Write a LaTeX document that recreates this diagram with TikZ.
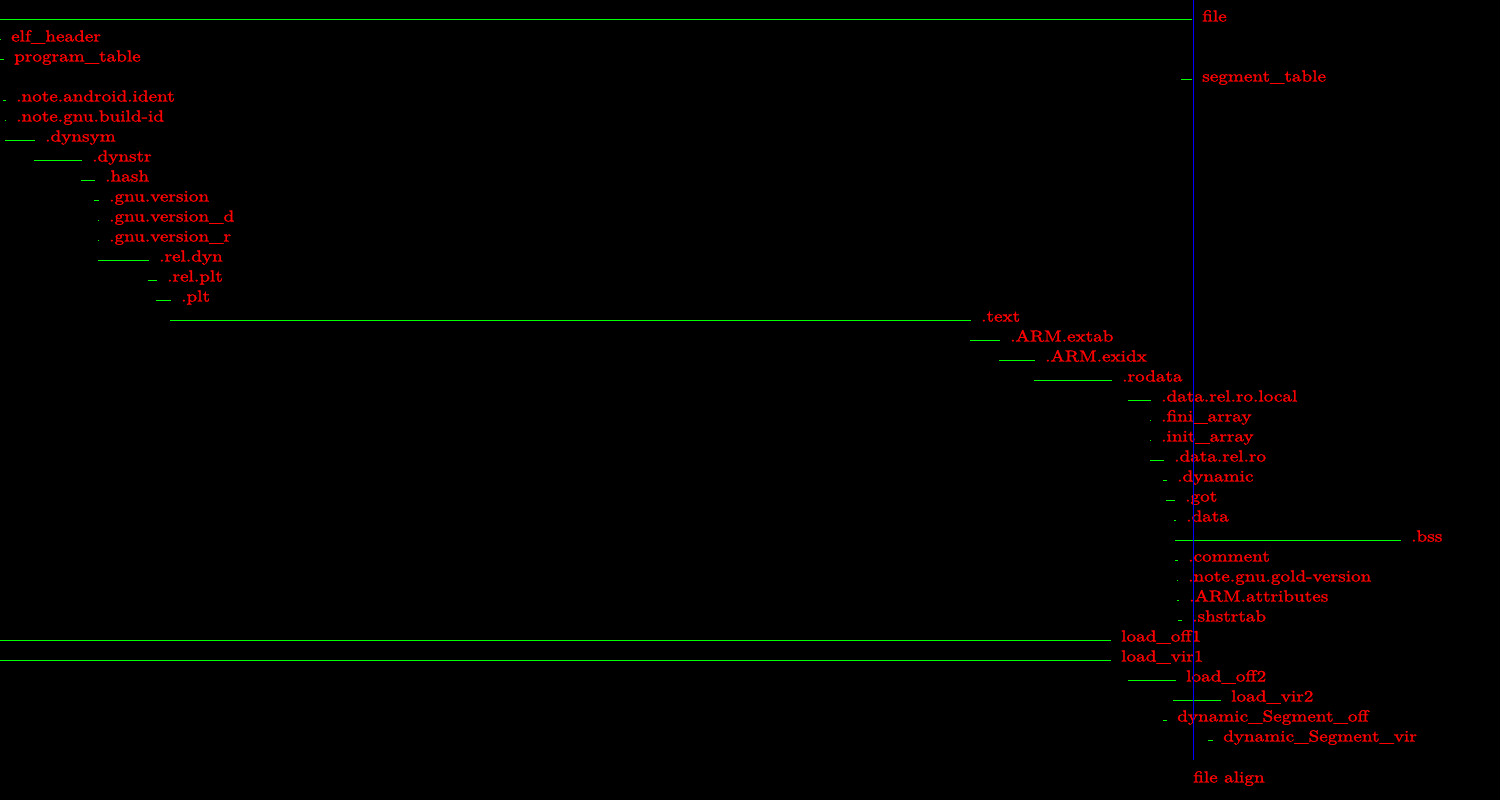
\documentclass[tikz,border=0pt]{standalone}
\usepackage{fontspec}
\setmainfont{lmroman10-regular.otf}[FakeStretch=1.2, FakeBold=1.6]
\tikzset{
  sect/.style={anchor=base west, inner sep=0pt, text=red, yshift=-1.5pt, font=\fontsize{16}{16}\selectfont},
  seg/.style={draw=green, line width=1pt, shorten >=10pt},
  falign/.style={draw=blue, line width=1.6pt}
}
\begin{document}
\begin{tikzpicture}[x=1pt, y=1pt]
    \fill[black] (0,0) rectangle (1500,-800);
    \useasboundingbox (0,0) rectangle (1500,-800);

    % header part of the file
    \coordinate (s0) at (0,-20);    \node[sect] (file) at (1202,-20) {file};
    \coordinate (s1) at (0,-40);    \node[sect] (elfh) at (11,-40) {elf\_header};
    \coordinate (s2) at (0,-60);    \node[sect] (prog) at (14,-60) {program\_table};
    \coordinate (s3) at (1181,-80); \node[sect] (segt) at (1202,-80) {segment\_table};
    \draw[seg] (s0) -- ([yshift=1.5pt]file.base west);
    \draw[seg] (s1) -- ([yshift=1.5pt]elfh.base west);
    \draw[seg] (s2) -- ([yshift=1.5pt]prog.base west);
    \draw[seg] (s3) -- ([yshift=1.5pt]segt.base west);

    % sections, first load segment
    \coordinate (s4) at (3,-100);   \node[sect] (ndroid) at (16,-100) {.note.android.ident};
    \coordinate (s5) at (5,-120);   \node[sect] (nbuild) at (16,-120) {.note.gnu.build-id};
    \coordinate (s6) at (5,-140);   \node[sect] (dsym) at (45,-140) {.dynsym};
    \coordinate (s7) at (34,-160);  \node[sect] (dstr) at (92,-160) {.dynstr};
    \coordinate (s8) at (81,-180);  \node[sect] (hash) at (105,-180) {.hash};
    \coordinate (s9) at (94,-200);  \node[sect] (gver) at (109,-200) {.gnu.version};
    \coordinate (s10) at (98,-220); \node[sect] (gverd) at (109,-220) {.gnu.version\_d};
    \coordinate (s11) at (98,-240); \node[sect] (gverr) at (109,-240) {.gnu.version\_r};
    \coordinate (s12) at (98,-260); \node[sect] (reld) at (159,-260) {.rel.dyn};
    \coordinate (s13) at (148,-280); \node[sect] (relp) at (167,-280) {.rel.plt};
    \coordinate (s14) at (156,-300); \node[sect] (plt) at (181,-300) {.plt};
    \coordinate (s15) at (170,-320); \node[sect] (text) at (981,-320) {.text};
    \coordinate (s16) at (970,-340); \node[sect] (extab) at (1010,-340) {.ARM.extab};
    \coordinate (s17) at (999,-360); \node[sect] (exidx) at (1045,-360) {.ARM.exidx};
    \coordinate (s18) at (1034,-380); \node[sect] (rodata) at (1122,-380) {.rodata};
    \foreach \i/\n in {4/ndroid,5/nbuild,6/dsym,7/dstr,8/hash,9/gver,10/gverd,
                       11/gverr,12/reld,13/relp,14/plt,15/text,16/extab,17/exidx,18/rodata}
        \draw[seg] (s\i) -- ([yshift=1.5pt]\n.base west);

    % sections, second load segment
    \coordinate (s19) at (1128,-400); \node[sect] (drlocal) at (1161,-400) {.data.rel.ro.local};
    \coordinate (s20) at (1150,-420); \node[sect] (fini) at (1161,-420) {.fini\_array};
    \coordinate (s21) at (1150,-440); \node[sect] (init) at (1161,-440) {.init\_array};
    \coordinate (s22) at (1150,-460); \node[sect] (drro) at (1174,-460) {.data.rel.ro};
    \coordinate (s23) at (1163,-480); \node[sect] (dyn) at (1177,-480) {.dynamic};
    \coordinate (s24) at (1166,-500); \node[sect] (got) at (1185,-500) {.got};
    \coordinate (s25) at (1174,-520); \node[sect] (data) at (1186,-520) {.data};
    \coordinate (s26) at (1175,-540); \node[sect] (bss) at (1411,-540) {.bss};
    \coordinate (s27) at (1175,-560); \node[sect] (comm) at (1188,-560) {.comment};
    \coordinate (s28) at (1177,-580); \node[sect] (gold) at (1188,-580) {.note.gnu.gold-version};
    \coordinate (s29) at (1177,-600); \node[sect] (attr) at (1189,-600) {.ARM.attributes};
    \coordinate (s30) at (1178,-620); \node[sect] (shstr) at (1192,-620) {.shstrtab};
    \foreach \i/\n in {19/drlocal,20/fini,21/init,22/drro,23/dyn,24/got,25/data,
                       26/bss,27/comm,28/gold,29/attr,30/shstr}
        \draw[seg] (s\i) -- ([yshift=1.5pt]\n.base west);

    % segments
    \coordinate (s31) at (0,-640);    \node[sect] (loff1) at (1121,-640) {load\_off1};
    \coordinate (s32) at (0,-660);    \node[sect] (lvir1) at (1121,-660) {load\_vir1};
    \coordinate (s33) at (1128,-680); \node[sect] (loff2) at (1186,-680) {load\_off2};
    \coordinate (s34) at (1173,-700); \node[sect] (lvir2) at (1231,-700) {load\_vir2};
    \coordinate (s35) at (1163,-720); \node[sect] (dsoff) at (1177,-720) {dynamic\_Segment\_off};
    \coordinate (s36) at (1208,-740); \node[sect] (dsvir) at (1223,-740) {dynamic\_Segment\_vir};
    \foreach \i/\n in {31/loff1,32/lvir1,33/loff2,34/lvir2,35/dsoff,36/dsvir}
        \draw[seg] (s\i) -- ([yshift=1.5pt]\n.base west);

    % file alignment
    \coordinate (atop) at (1193.5,0);
    \coordinate (abot) at (1193.5,-760);
    \node[sect] (align) at (1193,-781) {file align};
    \draw[falign] (atop) -- (abot);
\end{tikzpicture}
\end{document}
